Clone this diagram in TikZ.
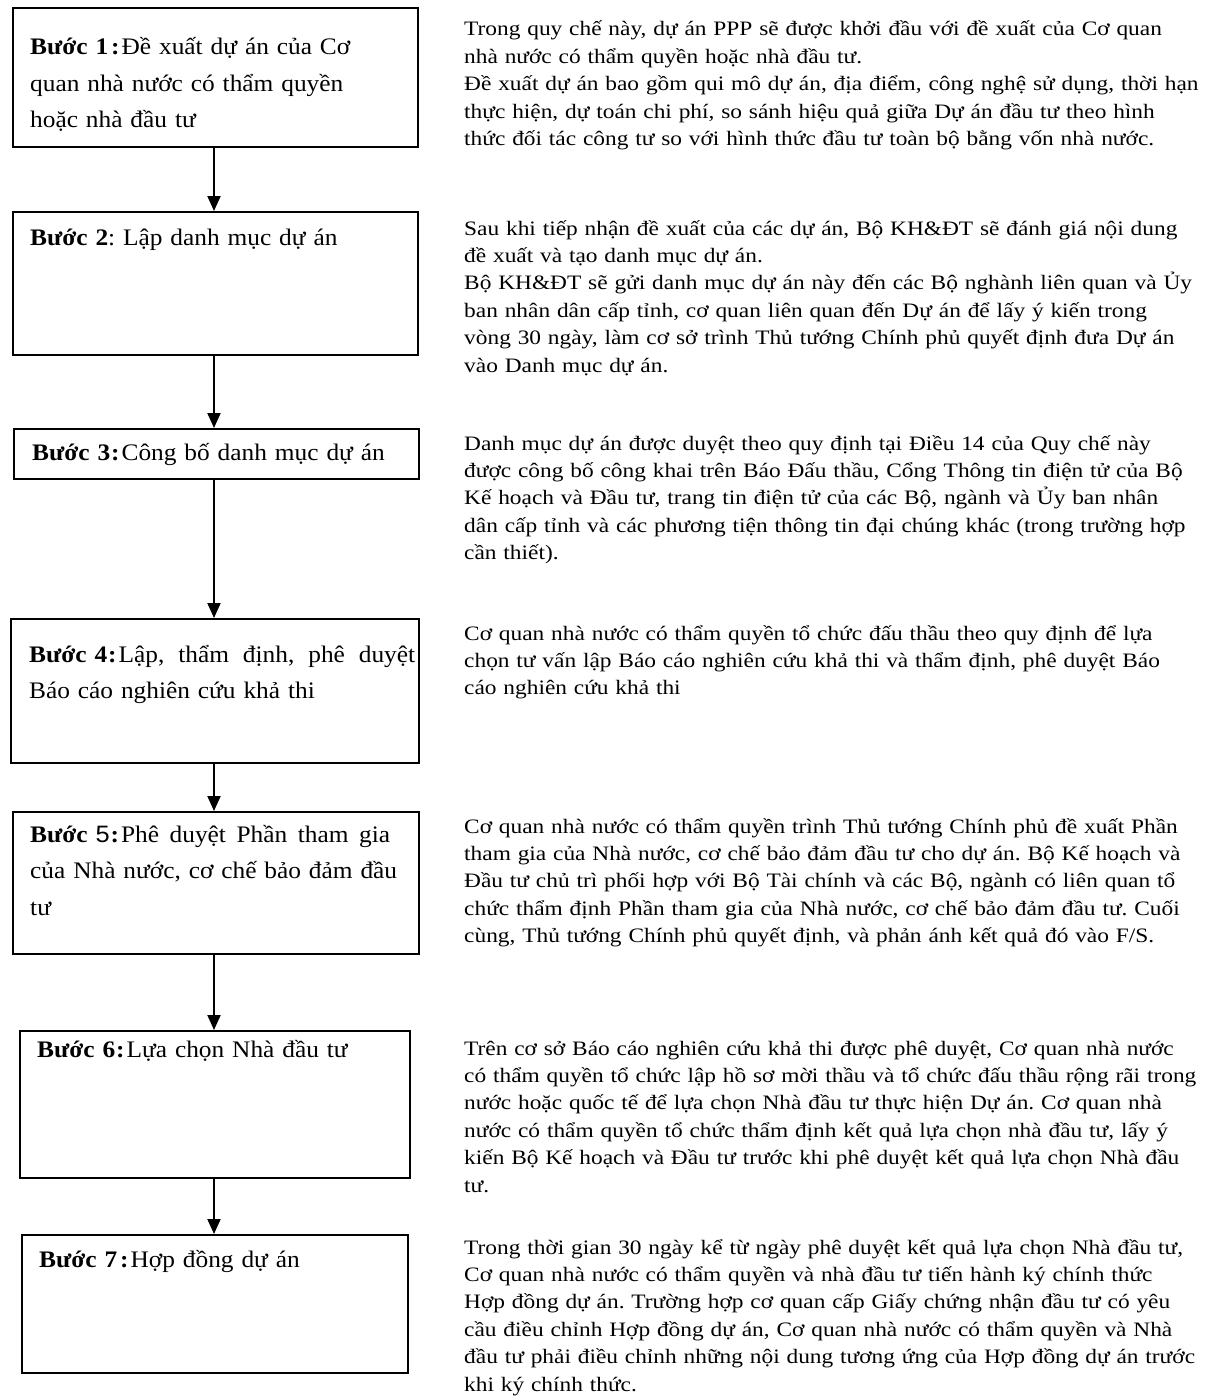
\documentclass[tikz,border=0pt]{standalone}
\usepackage{fontspec}
\setmainfont{Liberation Serif}[FakeStretch=1.07]
\newfontfamily\rfont{Liberation Serif}[FakeStretch=1.14]
\newfontfamily\numfont{Liberation Sans}[FakeStretch=1.07]
\usetikzlibrary{arrows.meta}
\tikzset{
  stepbox/.style={draw=black, line width=2pt, rectangle, inner sep=0pt, anchor=north west},
  boxtext/.style={anchor=base west, inner sep=0pt, text width=390pt, align=left,
    font=\frenchspacing\fontsize{23.7}{36.5}\selectfont},
  desc/.style={anchor=base west, inner sep=0pt, text width=750pt, align=left,
    font=\frenchspacing\rfont\fontsize{20.5}{27.4}\selectfont},
  flow/.style={line width=2pt, -{Triangle[width=13pt,length=15pt]}}
}
\newcommand{\colsep}{\hspace{3pt}\textbf{:}\hspace{2pt}}
\begin{document}
\begin{tikzpicture}[x=1pt,y=-1pt]
\path[use as bounding box, fill=white] (0,0) rectangle (1211,1397);
\coordinate (ax) at (214,0);

% boxes
\node[stepbox, minimum width=405pt, minimum height=139pt] (b1) at (12,7) {};
\node[stepbox, minimum width=405pt, minimum height=143pt] (b2) at (12,211) {};
\node[stepbox, minimum width=405pt, minimum height=50pt] (b3) at (13,428) {};
\node[stepbox, minimum width=408pt, minimum height=144pt] (b4) at (10,618) {};
\node[stepbox, minimum width=406pt, minimum height=142pt] (b5) at (12,811) {};
\node[stepbox, minimum width=390pt, minimum height=147pt] (b6) at (19,1030) {};
\node[stepbox, minimum width=386pt, minimum height=138pt] (b7) at (21,1234) {};

% box texts
\node[boxtext] (t1) at (30,55) {\textbf{Bước 1}\colsep Đề xuất dự án của Cơ\\quan nhà nước có thẩm quyền\\hoặc nhà đầu tư};
\node[boxtext] (t2) at (30,245) {\textbf{Bước 2}: Lập danh mục dự án};
\node[boxtext] (t3) at (32,460) {\textbf{Bước 3}\hspace{1pt}\textbf{:}\hspace{2pt}Công bố danh mục dự án};
\node[boxtext] (t4) at (29,662) {\hbox to 386pt{\textbf{Bước 4}\hspace{1pt}\textbf{:}\hspace{2pt}Lập,\hfill thẩm\hfill định,\hfill phê\hfill duyệt}\\Báo cáo nghiên cứu khả thi};
\node[boxtext] (t5) at (30,842) {\hbox to 360pt{\textbf{Bước} {\numfont 5}\hspace{1pt}\textbf{:}\hspace{2pt}Phê\hfill duyệt\hfill Phần\hfill tham\hfill gia}\\của Nhà nước, cơ chế bảo đảm đầu\\tư};
\node[boxtext] (t6) at (37,1057) {\textbf{Bước 6}\hspace{1pt}\textbf{:}\hspace{2pt}Lựa chọn Nhà đầu tư};
\node[boxtext] (t7) at (39,1267) {\textbf{Bước 7}\colsep Hợp đồng dự án};

% arrows
\draw[flow] (b1.south -| ax) -- (b2.north -| ax);
\draw[flow] (b2.south -| ax) -- (b3.north -| ax);
\draw[flow] (b3.south -| ax) -- (b4.north -| ax);
\draw[flow] (b4.south -| ax) -- (b5.north -| ax);
\draw[flow] (b5.south -| ax) -- (b6.north -| ax);
\draw[flow] (b6.south -| ax) -- (b7.north -| ax);

% descriptions
\node[desc] (d1) at (464,36) {Trong quy chế này, dự án PPP sẽ được khởi đầu với đề xuất của Cơ quan\\
nhà nước có thẩm quyền hoặc nhà đầu tư.\\
Đề xuất dự án bao gồm qui mô dự án, địa điểm, công nghệ sử dụng, thời hạn\\
thực hiện, dự toán chi phí, so sánh hiệu quả giữa Dự án đầu tư theo hình\\
thức đối tác công tư so với hình thức đầu tư toàn bộ bằng vốn nhà nước.};

\node[desc] (d2) at (464,235) {Sau khi tiếp nhận đề xuất của các dự án, Bộ KH\&ĐT sẽ đánh giá nội dung\\
đề xuất và tạo danh mục dự án.\\
Bộ KH\&ĐT sẽ gửi danh mục dự án này đến các Bộ nghành liên quan và Ủy\\
ban nhân dân cấp tỉnh, cơ quan liên quan đến Dự án để lấy ý kiến trong\\
vòng 30 ngày, làm cơ sở trình Thủ tướng Chính phủ quyết định đưa Dự án\\
vào Danh mục dự án.};

\node[desc] (d3) at (464,450) {Danh mục dự án được duyệt theo quy định tại Điều 14 của Quy chế này\\
được công bố công khai trên Báo Đấu thầu, Cổng Thông tin điện tử của Bộ\\
Kế hoạch và Đầu tư, trang tin điện tử của các Bộ, ngành và Ủy ban nhân\\
dân cấp tỉnh và các phương tiện thông tin đại chúng khác (trong trường hợp\\
cần thiết).};

\node[desc] (d4) at (464,640) {Cơ quan nhà nước có thẩm quyền tổ chức đấu thầu theo quy định để lựa\\
chọn tư vấn lập Báo cáo nghiên cứu khả thi và thẩm định, phê duyệt Báo\\
cáo nghiên cứu khả thi};

\node[desc] (d5) at (464,833) {Cơ quan nhà nước có thẩm quyền trình Thủ tướng Chính phủ đề xuất Phần\\
tham gia của Nhà nước, cơ chế bảo đảm đầu tư cho dự án. Bộ Kế hoạch và\\
Đầu tư chủ trì phối hợp với Bộ Tài chính và các Bộ, ngành có liên quan tổ\\
chức thẩm định Phần tham gia của Nhà nước, cơ chế bảo đảm đầu tư. Cuối\\
cùng, Thủ tướng Chính phủ quyết định, và phản ánh kết quả đó vào F/S.};

\node[desc] (d6) at (464,1055) {Trên cơ sở Báo cáo nghiên cứu khả thi được phê duyệt, Cơ quan nhà nước\\
có thẩm quyền tổ chức lập hồ sơ mời thầu và tổ chức đấu thầu rộng rãi trong\\
nước hoặc quốc tế để lựa chọn Nhà đầu tư thực hiện Dự án. Cơ quan nhà\\
nước có thẩm quyền tổ chức thẩm định kết quả lựa chọn nhà đầu tư, lấy ý\\
kiến Bộ Kế hoạch và Đầu tư trước khi phê duyệt kết quả lựa chọn Nhà đầu\\
tư.};

\node[desc] (d7) at (464,1254) {Trong thời gian 30 ngày kể từ ngày phê duyệt kết quả lựa chọn Nhà đầu tư,\\
Cơ quan nhà nước có thẩm quyền và nhà đầu tư tiến hành ký chính thức\\
Hợp đồng dự án. Trường hợp cơ quan cấp Giấy chứng nhận đầu tư có yêu\\
cầu điều chỉnh Hợp đồng dự án, Cơ quan nhà nước có thẩm quyền và Nhà\\
đầu tư phải điều chỉnh những nội dung tương ứng của Hợp đồng dự án trước\\
khi ký chính thức.};
\end{tikzpicture}
\end{document}
